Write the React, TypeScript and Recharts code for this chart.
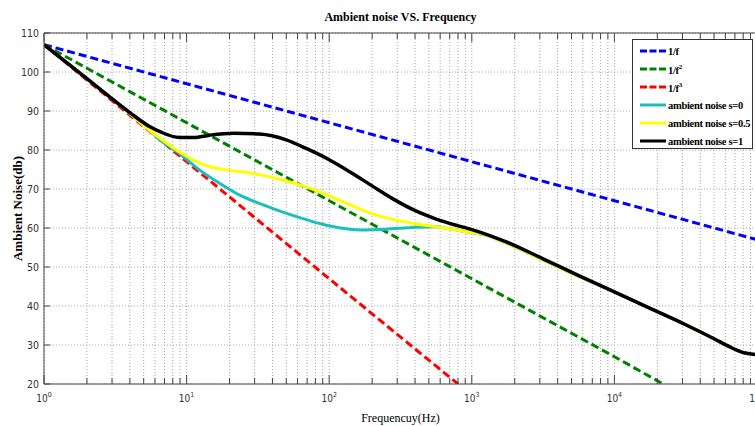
import React from "react";
import { LineChart, Line, XAxis, YAxis, CartesianGrid, Legend, Label } from "recharts";

// ---- axis ticks ----
const decades = [1, 10, 100, 1000, 10000, 100000];
const decadeExp = ["0", "1", "2", "3", "4", "5"];
const minorSteps = [1, 2, 3, 4, 5, 6, 7, 8, 9];
const yTicks = [20, 30, 40, 50, 60, 70, 80, 90, 100, 110];

// ---- reference slopes ----
const f1Freq = [1, 10, 100, 1000, 10000, 100000];
const f1Noise = [107, 97, 87, 77, 67, 57];
const f2Freq = [1, 10, 100, 1000, 10000, 22000];
const f2Noise = [107, 87, 67, 47, 27, 20];
const f3Freq = [1, 10, 100, 800];
const f3Noise = [107, 77, 47, 20];

// ---- ambient noise curves ----
const s0Freq = [1, 2, 4, 5.5, 6.5, 8.9, 12.3, 17, 23.4, 32.4, 44.7, 63, 87, 120, 166, 250, 400, 550, 700, 930, 1200, 1780, 3160, 5620, 10000, 17800, 31600, 50000, 63000, 79400, 100000];
const s0Noise = [107, 98.3, 89.4, 85.0, 82.6, 79.1, 74.9, 71.5, 68.5, 66.3, 64.4, 62.6, 61.1, 60.0, 59.5, 59.7, 60.2, 60.3, 59.8, 59.0, 58.3, 56.0, 51.8, 47.6, 43.6, 39.4, 35.2, 31.6, 29.7, 28.1, 27.5];

const s05Freq = [1, 2, 4, 5.5, 6.5, 8.5, 11.2, 14.5, 19, 29.5, 42.7, 63, 87, 120, 166, 250, 400, 600, 930, 1200, 1780, 3160, 5620, 10000, 17800, 31600, 50000, 63000, 79400, 100000];
const s05Noise = [107, 98.3, 89.4, 85.0, 83.0, 80.0, 77.4, 75.7, 74.9, 74.0, 72.7, 71.0, 69.2, 67.0, 64.8, 62.6, 61.1, 60.2, 59.0, 58.4, 56.0, 51.8, 47.6, 43.6, 39.4, 35.2, 31.6, 29.7, 28.1, 27.5];

const s1Freq = [1, 2, 4, 5.5, 6.5, 8.9, 11.2, 14.5, 21.4, 32.4, 50, 69, 100, 141, 200, 282, 398, 562, 794, 1000, 1780, 3160, 5620, 10000, 17800, 31600, 50000, 63000, 79400, 100000];
const s1Noise = [107, 98.3, 89.6, 86.0, 84.7, 83.2, 83.2, 83.8, 84.3, 84.1, 82.6, 80.4, 77.5, 74.3, 70.8, 67.4, 64.5, 62.3, 60.6, 59.6, 56.3, 52.1, 47.8, 43.6, 39.4, 35.2, 31.6, 29.7, 28.1, 27.5];

const seriesNames = ["1/f", "1/f2", "1/f3", "ambient noise s=0", "ambient noise s=0.5", "ambient noise s=1"];
const seriesColors = ["#0000ff", "#008000", "#ff0000", "#1cbfbf", "#ffff00", "#000000"];

const toPts = (fs: number[], vs: number[]) => fs.map((f, i) => ({ f, v: vs[i] }));

const xTicks: number[] = decades.slice(0, 5).flatMap((d) => minorSteps.map((m) => m * d)).concat([100000]);

const serif = "'Liberation Serif', 'Times New Roman', serif";
const tickFont = "'Liberation Sans Narrow', 'DejaVu Sans Condensed', 'Liberation Sans', sans-serif";

const BottomTick = (props: any) => {
  const { x, y, payload } = props;
  const v = payload.value;
  const idx = decades.indexOf(v);
  const major = idx >= 0;
  return (
    <g>
      <line x1={x} x2={x} y1={y} y2={y - (major ? 9 : 6)} stroke="#444" strokeWidth={1} />
      {major && (
        <text x={x} y={y + 18} textAnchor="middle" fontSize={10} fill="#333" fontFamily={tickFont}>
          10<tspan dy={-5} fontSize={7}>{decadeExp[idx]}</tspan>
        </text>
      )}
    </g>
  );
};

const TopTick = (props: any) => {
  const { x, y, payload } = props;
  const major = decades.indexOf(payload.value) >= 0;
  return <line x1={x} x2={x} y1={y} y2={y + (major ? 9 : 6)} stroke="#444" strokeWidth={1} />;
};

const LeftTick = (props: any) => {
  const { x, y, payload } = props;
  return (
    <g>
      <line x1={x} x2={x + 6} y1={y} y2={y} stroke="#444" strokeWidth={1} />
      <text x={x - 5} y={y} dy="0.35em" textAnchor="end" fontSize={10.5} fill="#333" fontFamily={tickFont}>
        {payload.value}
      </text>
    </g>
  );
};

const LegendBox = () => (
  <div
    style={{
      boxSizing: "border-box",
      width: 121,
      height: 110,
      border: "1px solid #333",
      background: "#fff",
      paddingTop: 2,
      fontFamily: serif,
      fontWeight: "bold",
      fontSize: 10.5,
      color: "#000",
    }}
  >
    {seriesNames.map((n, i) => (
      <div key={n} style={{ height: 18, display: "flex", alignItems: "center", paddingLeft: 7 }}>
        <svg width={26} height={4} style={{ display: "block", flex: "none" }}>
          <line
            x1={0}
            x2={26}
            y1={2}
            y2={2}
            stroke={seriesColors[i]}
            strokeWidth={3}
            strokeDasharray={i < 3 ? "7 2.5" : undefined}
          />
        </svg>
        <span style={{ marginLeft: 2, whiteSpace: "nowrap", letterSpacing: -0.3 }}>
          {i === 1 ? (
            <>
              1/f<sup style={{ fontSize: 7 }}>2</sup>
            </>
          ) : i === 2 ? (
            <>
              1/f<sup style={{ fontSize: 7 }}>3</sup>
            </>
          ) : (
            n
          )}
        </span>
      </div>
    ))}
  </div>
);

export default function App() {
  const dashed = [toPts(f1Freq, f1Noise), toPts(f2Freq, f2Noise), toPts(f3Freq, f3Noise)];
  const solid = [toPts(s0Freq, s0Noise), toPts(s05Freq, s05Noise), toPts(s1Freq, s1Noise)];
  return (
    <div style={{ position: "fixed", left: 0, top: 0, width: 755, height: 426, overflow: "hidden", background: "#fff" }}>
      <div style={{ position: "absolute", left: 8, top: 8 }}>
        <LineChart width={760} height={418} margin={{ top: 0, right: 11, bottom: 0, left: 0 }}>
          <CartesianGrid stroke="#a8a8a8" strokeDasharray="1 2" />
          <XAxis
            xAxisId={0}
            dataKey="f"
            type="number"
            scale="log"
            domain={[1, 100000]}
            allowDataOverflow
            ticks={xTicks}
            interval={0}
            tick={BottomTick}
            tickLine={false}
            tickSize={0}
            tickMargin={0}
            height={42}
            axisLine={{ stroke: "#444" }}
          >
            <Label
              content={(p: any) => {
                const vb = p.viewBox || { x: 36, y: 376, width: 713, height: 42 };
                return (
                  <text x={vb.x + vb.width / 2} y={vb.y + 38} textAnchor="middle" fontFamily={serif} fontSize={12} fill="#000">
                    Frequencuy(Hz)
                  </text>
                );
              }}
            />
          </XAxis>
          <XAxis
            xAxisId="top"
            orientation="top"
            dataKey="f"
            type="number"
            scale="log"
            domain={[1, 100000]}
            allowDataOverflow
            ticks={xTicks}
            interval={0}
            tick={TopTick}
            tickLine={false}
            tickSize={0}
            tickMargin={0}
            height={25}
            axisLine={{ stroke: "#444" }}
          >
            <Label
              content={(p: any) => {
                const vb = p.viewBox || { x: 36, y: 0, width: 713, height: 25 };
                return (
                  <text x={vb.x + vb.width / 2} y={13} textAnchor="middle" fontFamily={serif} fontWeight="bold" fontSize={12} fill="#000">
                    Ambient noise VS. Frequency
                  </text>
                );
              }}
            />
          </XAxis>
          <YAxis
            type="number"
            domain={[20, 110]}
            allowDataOverflow
            ticks={yTicks}
            interval={0}
            tick={LeftTick}
            tickLine={false}
            tickSize={0}
            tickMargin={0}
            width={36}
            axisLine={{ stroke: "#444" }}
          >
            <Label
              content={(p: any) => {
                const vb = p.viewBox || { x: 0, y: 25, width: 36, height: 351 };
                const cy = vb.y + vb.height / 2;
                return (
                  <text
                    x={9}
                    y={cy}
                    transform={`rotate(-90, 9, ${cy})`}
                    textAnchor="middle"
                    dominantBaseline="central"
                    fontFamily={serif}
                    fontWeight="bold"
                    fontSize={13}
                    fill="#000"
                  >
                    Ambient Noise(db)
                  </text>
                );
              }}
            />
          </YAxis>
          <Legend
            layout="vertical"
            align="center"
            verticalAlign="middle"
            content={() => <LegendBox />}
            wrapperStyle={{ left: 624, top: 31, width: 121, height: 110 }}
          />
          {dashed.map((d, i) => (
            <Line
              key={seriesNames[i]}
              data={d}
              dataKey="v"
              name={seriesNames[i]}
              type="linear"
              stroke={seriesColors[i]}
              strokeWidth={3}
              strokeDasharray="8 4"
              dot={false}
              activeDot={false}
              isAnimationActive={false}
            />
          ))}
          {solid.map((d, i) => (
            <Line
              key={seriesNames[i + 3]}
              data={d}
              dataKey="v"
              name={seriesNames[i + 3]}
              type="monotone"
              stroke={seriesColors[i + 3]}
              strokeWidth={i === 2 ? 3.5 : 3}
              dot={false}
              activeDot={false}
              isAnimationActive={false}
            />
          ))}
        </LineChart>
      </div>
    </div>
  );
}
